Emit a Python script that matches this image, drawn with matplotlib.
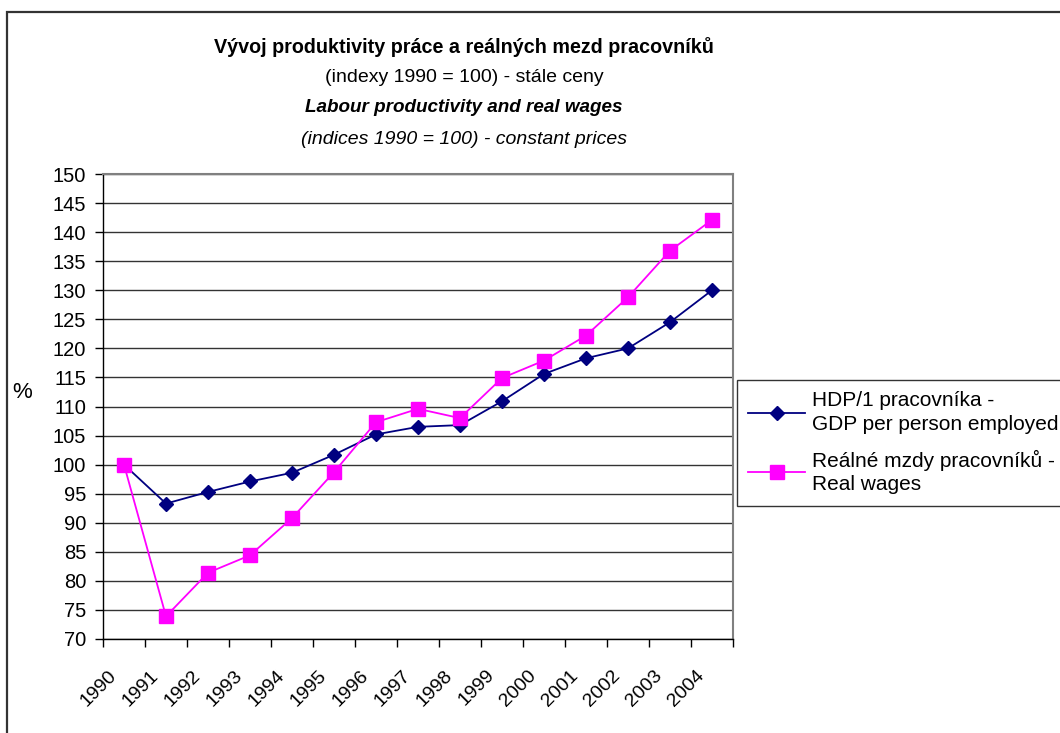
import matplotlib
matplotlib.use("Agg")
import matplotlib.pyplot as plt
import matplotlib.patches as mpatches
from matplotlib.transforms import ScaledTranslation
import numpy as np

years = ["1990", "1991", "1992", "1993", "1994", "1995", "1996", "1997",
         "1998", "1999", "2000", "2001", "2002", "2003", "2004"]
gdp_per_employed = [100.0, 93.3, 95.3, 97.1, 98.6, 101.7, 105.2, 106.5,
                    106.8, 110.9, 115.6, 118.3, 120.0, 124.5, 130.0]
real_wages = [100.0, 73.9, 81.4, 84.4, 90.8, 98.7, 107.3, 109.6,
              108.0, 114.9, 117.9, 122.2, 128.8, 136.8, 142.1]
y_ticks = list(range(70, 151, 5))

label_gdp = "HDP/1 pracovníka -\nGDP per person employed"
label_wages = "Reálné mzdy pracovníků -\nReal wages"

plt.rcParams["font.family"] = ["Liberation Sans", "DejaVu Sans"]

W, H = 1060, 733
fig = plt.figure(figsize=(W / 100, H / 100), dpi=100)

# outer chart border (right/bottom fall outside the picture)
fig.patches.append(mpatches.Rectangle((7 / W, -0.1), 1.2, 1 - 12 / H + 0.1,
                                      transform=fig.transFigure, fill=False,
                                      edgecolor="#333333", linewidth=1.6))

ax = fig.add_axes([103 / W, 1 - 639 / H, (733 - 103) / W, (639 - 174) / H])

x = np.arange(len(years))
ax.plot(x, gdp_per_employed, color="#000080", linewidth=1.3, marker="D",
        markersize=7.5, label=label_gdp)
ax.plot(x, real_wages, color="#FF00FF", linewidth=1.3, marker="s",
        markersize=9.5, label=label_wages)

ax.set_xlim(-0.5, len(years) - 0.5)
ax.set_ylim(70, 150)
ax.set_yticks(y_ticks)
ax.set_yticklabels([str(v) for v in y_ticks], fontsize=14.5)
ax.yaxis.grid(True, color="#333333", linewidth=1)
ax.set_axisbelow(True)

ax.set_xticks(x)
ax.set_xticklabels(years, fontsize=14, rotation=45, ha="right",
                   va="top", rotation_mode="anchor")
ax.set_xticks(np.arange(len(years) + 1) - 0.5, minor=True)
ax.tick_params(axis="x", which="major", length=0, pad=20)
ax.tick_params(axis="x", which="minor", length=6, width=1, direction="out")
ax.tick_params(axis="y", length=6, width=1, direction="out", pad=6)
for lab in ax.get_xticklabels():
    lab.set_transform(lab.get_transform() + ScaledTranslation(-0.16, 0, fig.dpi_scale_trans))

for side in ["top", "right"]:
    ax.spines[side].set_color("#808080")
    ax.spines[side].set_linewidth(1.5)
for side in ["left", "bottom"]:
    ax.spines[side].set_color("#000000")
    ax.spines[side].set_linewidth(1)

fig.text(22 / W, 1 - 393 / H, "%", fontsize=16, ha="center", va="center")

cx = 464 / W
fig.text(cx, 1 - 47 / H, "Vývoj produktivity práce a reálných mezd pracovníků",
         fontsize=14.2, fontweight="bold", ha="center", va="center")
fig.text(cx, 1 - 77 / H, "(indexy 1990 = 100) - stále ceny",
         fontsize=14, ha="center", va="center")
fig.text(cx, 1 - 108 / H, "Labour productivity and real wages",
         fontsize=13.6, fontweight="bold", style="italic", ha="center", va="center")
fig.text(cx, 1 - 140 / H, "(indices 1990 = 100) - constant prices",
         fontsize=14, style="italic", ha="center", va="center")

leg = ax.legend(loc="upper left", bbox_to_anchor=(737 / W, 1 - 380 / H),
                bbox_transform=fig.transFigure, borderaxespad=0, fontsize=15,
                frameon=True, fancybox=False, handlelength=2.7,
                handletextpad=0.35, labelspacing=0.75, borderpad=0.55)
for t in leg.get_texts():
    t.set_linespacing(1.3)
leg.get_frame().set_edgecolor("#000000")
leg.get_frame().set_linewidth(1)

fig.savefig("out.png", dpi=100, facecolor="white")
